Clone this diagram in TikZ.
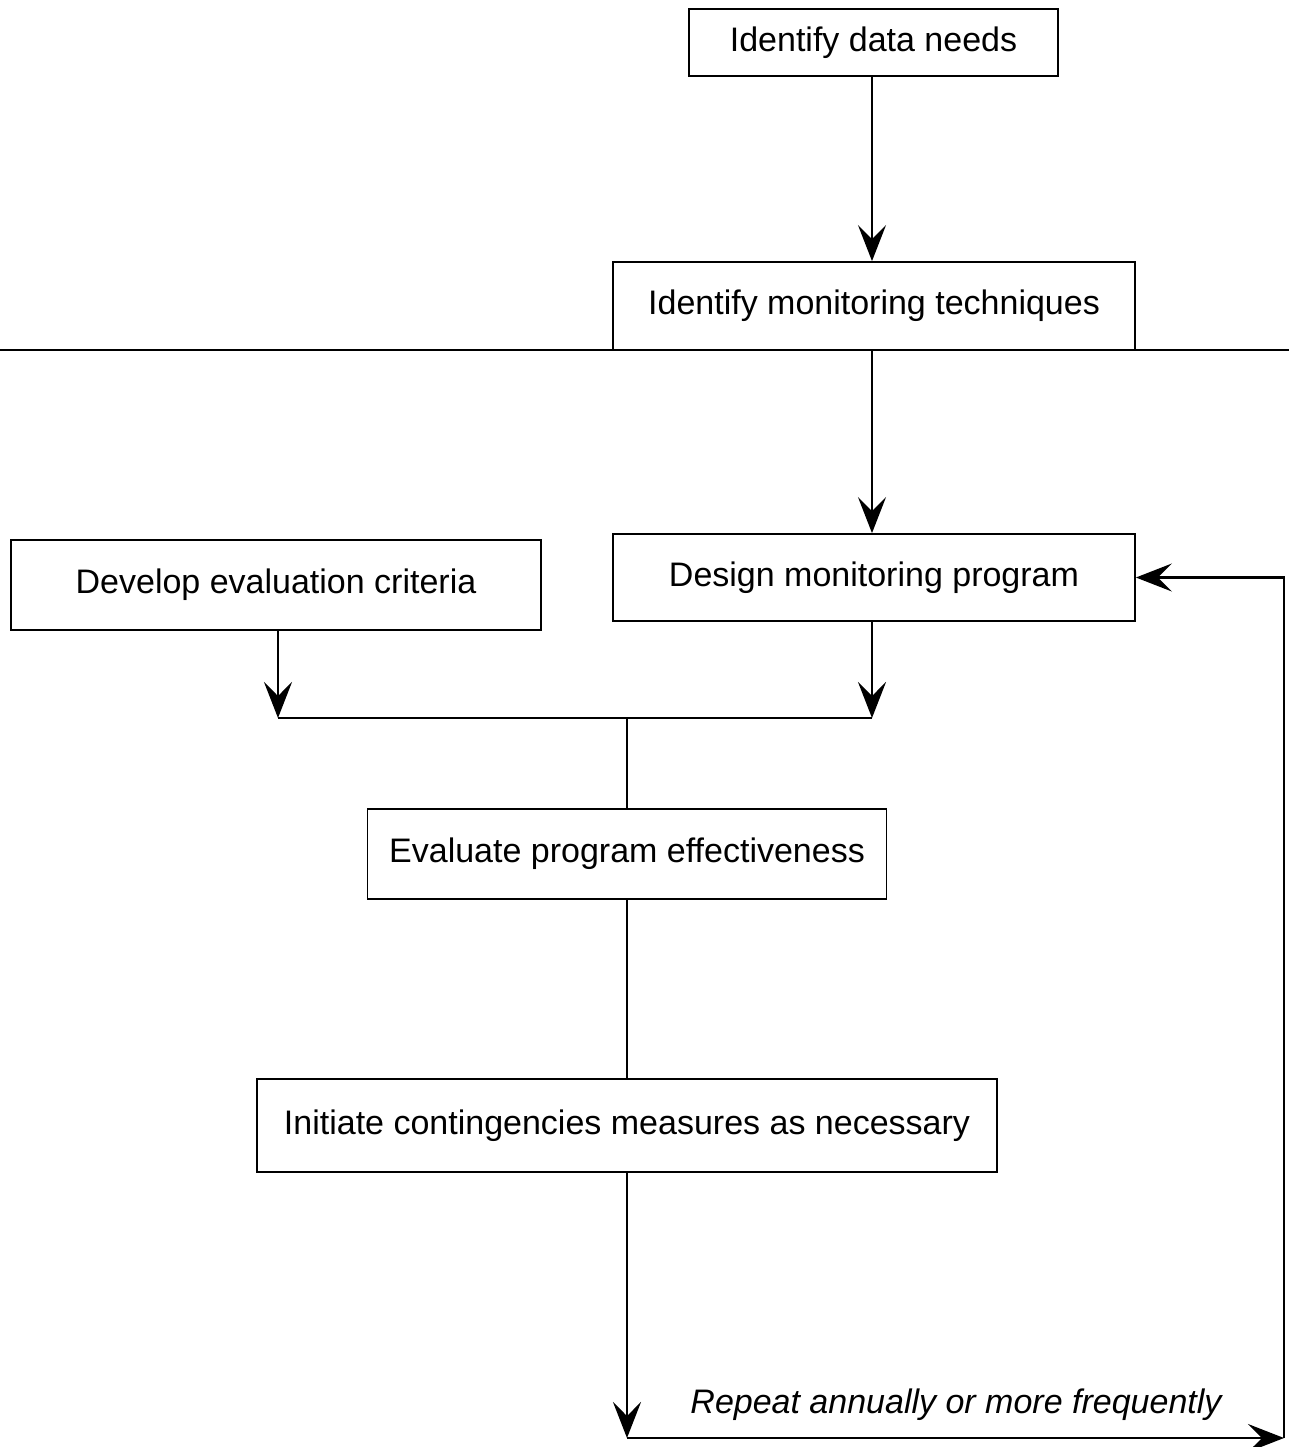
\documentclass[tikz,border=0pt]{standalone}
\usepackage{fontspec}
\setmainfont{Liberation Sans}
\usetikzlibrary{arrows.meta}
\begin{document}
\begin{tikzpicture}[x=0.5pt,y=-0.5pt,
  box/.style={draw, line width=0.9pt, inner sep=0pt, font=\fontsize{17}{20}\selectfont},
  arr/.style={line width=1.2pt, -{Stealth[length=18pt,width=14pt,inset=7pt]}},
  ln/.style={line width=1.2pt}]
\useasboundingbox (0,0) rectangle (1289,1447);
\node[box, minimum width=184.5pt, minimum height=33.5pt] (b1) at (873.5,42.5) {Identify data needs};
\node[box, minimum width=261pt, minimum height=44pt] (b2) at (874,306) {Identify monitoring techniques};
\node[box, minimum width=265pt, minimum height=45pt] (b4) at (276,585) {Develop evaluation criteria};
\node[box, minimum width=261pt, minimum height=43.5pt] (b5) at (874,577.5) {Design monitoring program};
\node[box, minimum width=259.5pt, minimum height=45pt] (b6) at (627,854) {Evaluate program effectiveness};
\node[box, minimum width=370pt, minimum height=46.5pt] (b7) at (627,1125.5) {Initiate contingencies measures as necessary};
\node[font=\fontsize{17}{20}\selectfont\itshape] (rep) at (956,1405) {Repeat annually or more frequently};
\coordinate (hl) at (0,350);
\coordinate (hr) at (1289,350);
\coordinate (jl) at (278,718);
\coordinate (jr) at (872,718);
\coordinate (jm) at (627,718);
\coordinate (bl) at (627,1438);
\coordinate (br) at (1284,1438);
\draw[line width=0.7pt] (hl) -- (hr);
\draw[arr] (b1.south -| jr) -- (b2.north -| jr);
\draw[arr] (b2.south -| jr) -- (b5.north -| jr);
\draw[arr] (b4.south -| jl) -- (jl);
\draw[arr] (b5.south -| jr) -- (jr);
\draw[ln] (jl) -- (jr);
\draw[ln] (jm) -- (b6);
\draw[ln] (b6) -- (b7);
\draw[arr] (b7) -- (bl);
\draw[arr] (bl) -- (br);
\draw[arr] (br) |- (b5.east);
\end{tikzpicture}
\end{document}
